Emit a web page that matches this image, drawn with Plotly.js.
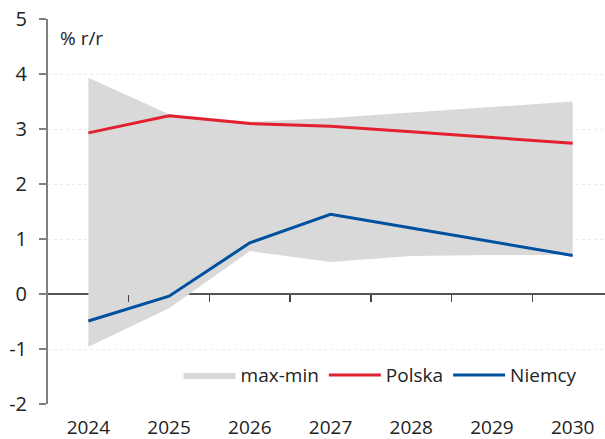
<!DOCTYPE html>
<html>
<head>
<meta charset="utf-8">
<script src="https://cdn.plot.ly/plotly-3.0.1.min.js"></script>
<style>html,body{margin:0;padding:0;background:#fff;}#chart{width:605px;height:439px;}</style>
</head>
<body>
<div id="chart"></div>
<script>
const years = [2024, 2025, 2026, 2027, 2028, 2029, 2030];
const bandMax = [3.93, 3.27, 3.13, 3.2, 3.3, 3.4, 3.5];
const bandMin = [-0.96, -0.26, 0.78, 0.58, 0.69, 0.71, 0.71];
const polska = [2.93, 3.24, 3.1, 3.05, 2.95, 2.84, 2.74];
const niemcy = [-0.49, -0.04, 0.93, 1.45, 1.2, 0.95, 0.7];
const midTicks = [2024.5, 2025.5, 2026.5, 2027.5, 2028.5, 2029.5];
const yTicks = [-2, -1, 0, 1, 2, 3, 4, 5];

const font = "Open Sans, Noto Sans, sans-serif";

const traces = [
  {x: years, y: bandMin, type: 'scatter', mode: 'lines', line: {width: 0, color: '#d9d9d9'}, showlegend: false, hoverinfo: 'skip'},
  {x: years, y: bandMax, type: 'scatter', mode: 'lines', fill: 'tonexty', fillcolor: '#d9d9d9', line: {width: 0, color: '#d9d9d9'}, name: 'max-min'},
  {x: years, y: polska, type: 'scatter', mode: 'lines', line: {width: 3, color: '#e3202e'}, name: 'Polska'},
  {x: years, y: niemcy, type: 'scatter', mode: 'lines', line: {width: 3, color: '#0050a0'}, name: 'Niemcy'},
  {x: midTicks, y: midTicks.map(() => 0), xaxis: 'x2', type: 'scatter', mode: 'markers', marker: {opacity: 0}, showlegend: false, hoverinfo: 'skip'}
];

const layout = {
  width: 605, height: 439,
  margin: {l: 48, r: 0, t: 19, b: 35},
  paper_bgcolor: '#fff', plot_bgcolor: '#fff',
  font: {family: font, size: 19, color: '#222'},
  showlegend: true,
  legend: {orientation: 'h', x: 0.958, xanchor: 'right', y: 0.075, yanchor: 'middle', bgcolor: 'rgba(0,0,0,0)', font: {size: 19, color: '#222'}, traceorder: 'normal', itemwidth: 52, tracegroupgap: 0},
  xaxis: {
    range: [2023.5, 2030.4], tickvals: years, ticktext: years.map(String),
    showgrid: false, zeroline: false, showline: false, ticks: '', ticklabelstandoff: 10,
    tickfont: {size: 19, color: '#222'}
  },
  xaxis2: {
    overlaying: 'x', anchor: 'free', position: 2/7, side: 'bottom', range: [2023.5, 2030.4],
    tickvals: midTicks, ticks: 'outside', ticklen: 7, tickwidth: 1.5, tickcolor: '#444',
    showticklabels: false, showgrid: false, zeroline: false, showline: false
  },
  yaxis: {
    range: [-2, 5], tickvals: yTicks, ticktext: yTicks.map(String),
    showline: true, linecolor: '#808080', linewidth: 2,
    ticks: 'outside', ticklen: 7, tickcolor: '#808080', tickwidth: 1.5, ticklabelstandoff: 8,
    showgrid: true, gridcolor: '#ebebeb', griddash: 'dot', gridwidth: 1,
    zeroline: true, zerolinecolor: '#555', zerolinewidth: 1.5,
    tickfont: {size: 20, color: '#222'}
  },
  annotations: [
    {text: '% r/r', xref: 'paper', yref: 'paper', x: 0.018, y: 0.95, xanchor: 'left', yanchor: 'middle', showarrow: false, font: {size: 19, color: '#222'}}
  ]
};

Plotly.newPlot('chart', traces, layout, {displayModeBar: false, staticPlot: true});
</script>
</body>
</html>
